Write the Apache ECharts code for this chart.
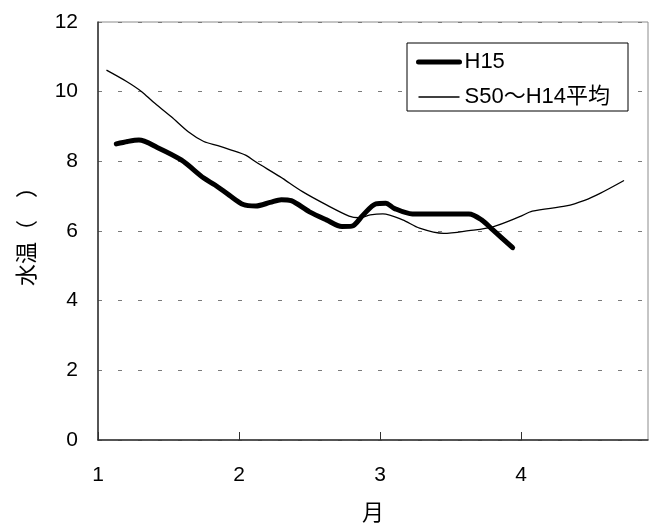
<!DOCTYPE html>
<html>
<head>
<meta charset="utf-8">
<script src="https://cdn.jsdelivr.net/npm/echarts@6/dist/echarts.min.js"></script>
<style>
html,body{margin:0;padding:0;background:#fff;}
#c{width:653px;height:526px;}
</style>
</head>
<body>
<div id="c"></div>
<script>
var xTicks = [1, 2, 3, 4];
var yTicks = [0, 2, 4, 6, 8, 10, 12];

var h15Name = 'H15';
var h15X = [1.13, 1.21, 1.29, 1.42, 1.59, 1.75, 1.83, 1.93, 2.03, 2.12, 2.22, 2.30, 2.37, 2.50, 2.62, 2.73, 2.80, 2.88, 2.97, 3.04, 3.10, 3.23, 3.40, 3.63, 3.72, 3.80, 3.94];
var h15Y = [8.50, 8.57, 8.61, 8.40, 8.04, 7.52, 7.32, 7.03, 6.76, 6.72, 6.82, 6.90, 6.87, 6.55, 6.32, 6.13, 6.14, 6.46, 6.78, 6.80, 6.65, 6.49, 6.49, 6.49, 6.32, 6.03, 5.52];

var avgName = 'S50～H14平均';
var avgX = [1.06, 1.20, 1.31, 1.39, 1.52, 1.64, 1.75, 1.85, 1.94, 2.05, 2.12, 2.29, 2.45, 2.62, 2.78, 2.85, 2.93, 3.02, 3.16, 3.28, 3.45, 3.63, 3.80, 3.99, 4.08, 4.32, 4.45, 4.56, 4.73];
var avgY = [10.62, 10.30, 10.00, 9.71, 9.28, 8.85, 8.57, 8.45, 8.33, 8.17, 7.98, 7.56, 7.13, 6.75, 6.43, 6.38, 6.46, 6.49, 6.32, 6.08, 5.93, 6.01, 6.12, 6.41, 6.57, 6.72, 6.88, 7.08, 7.45];

function pairs(xs, ys) {
  return xs.map(function (x, i) { return [x, ys[i]]; });
}

var FONT = '"Liberation Sans", Arial, "Noto Sans CJK JP", sans-serif';

var chart = echarts.init(document.getElementById('c'), null, {renderer: 'canvas'});
chart.setOption({
  animation: false,
  backgroundColor: '#fff',
  textStyle: {fontFamily: FONT, color: '#000'},
  grid: {
    left: 98, top: 22, right: 5, bottom: 86,
    outerBoundsMode: 'none', containLabel: false,
    show: true, borderColor: '#8c8c8c', borderWidth: 1, backgroundColor: 'transparent'
  },
  legend: {
    left: 407, top: 43,
    orient: 'vertical',
    backgroundColor: '#fff',
    borderColor: '#000', borderWidth: 1, borderRadius: 0,
    padding: [8, 18, 3, 9],
    itemWidth: 41, itemHeight: 20, itemGap: 13,
    itemStyle: {color: 'rgba(0,0,0,0)', borderWidth: 0, opacity: 0},
    textStyle: {fontFamily: FONT, fontSize: 22, color: '#000'},
    data: [
      {name: h15Name, lineStyle: {width: 5, color: '#000', cap: 'round'}},
      {name: avgName, lineStyle: {width: 1.3, color: '#000'}}
    ]
  },
  xAxis: {
    type: 'value',
    min: 1, max: 4.9, interval: 1,
    name: '月',
    nameLocation: 'middle', nameGap: 63,
    nameTextStyle: {fontFamily: FONT, fontSize: 22, color: '#000'},
    axisLine: {show: true, onZero: false, lineStyle: {color: '#303030', width: 1.5}},
    axisTick: {show: true, inside: true, length: 8, customValues: xTicks, lineStyle: {color: '#303030', width: 1}},
    axisLabel: {customValues: xTicks, margin: 25, fontSize: 21, color: '#000', fontFamily: FONT},
    splitLine: {show: false}
  },
  yAxis: {
    type: 'value',
    min: 0, max: 12, interval: 2,
    name: '水温（　）',
    nameLocation: 'middle', nameGap: 59, nameRotate: 90,
    nameTextStyle: {fontFamily: FONT, fontSize: 22, color: '#000'},
    axisLine: {show: true, lineStyle: {color: '#303030', width: 1.5}},
    axisTick: {show: false},
    axisLabel: {margin: 20, fontSize: 21, color: '#000', fontFamily: FONT},
    splitLine: {show: true, lineStyle: {color: '#7a7a7a', width: 1, type: [4, 16]}}
  },
  series: [
    {
      name: h15Name, type: 'line',
      data: pairs(h15X, h15Y),
      symbol: 'none', smooth: 0.3,
      lineStyle: {color: '#000', width: 5, cap: 'round', join: 'round'},
      itemStyle: {color: '#000'},
      z: 3
    },
    {
      name: avgName, type: 'line',
      data: pairs(avgX, avgY),
      symbol: 'none', smooth: 0.3,
      lineStyle: {color: '#000', width: 1.3},
      itemStyle: {color: '#000'},
      z: 2
    }
  ]
});
</script>
</body>
</html>
